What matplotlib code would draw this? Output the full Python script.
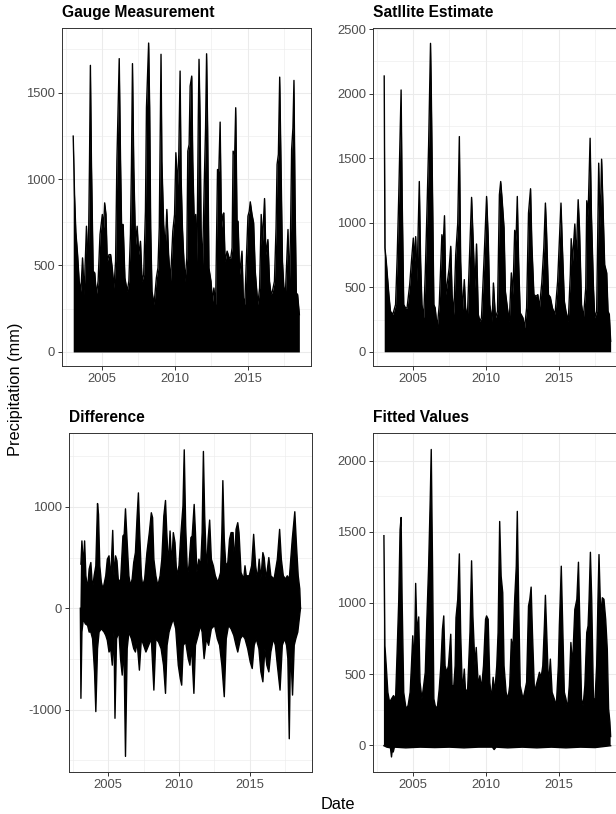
import numpy as np
import matplotlib
matplotlib.use('Agg')
import matplotlib.pyplot as plt
from matplotlib.ticker import FixedLocator

plt.rcParams['font.family'] = ['Liberation Sans', 'DejaVu Sans']
plt.rcParams['axes.unicode_minus'] = False

# ---------------- data (outline of the dense series) ----------------
gauge_dates = [
    2003.02, 2003.11, 2003.20, 2003.32, 2003.43, 2003.55, 2003.66, 2003.77, 2003.93,
    2004.05, 2004.14, 2004.20, 2004.27, 2004.39, 2004.50, 2004.61, 2004.73, 2004.86,
    2005.02, 2005.11, 2005.18, 2005.27, 2005.36, 2005.48, 2005.59, 2005.70, 2005.82, 2005.93,
    2006.02, 2006.18, 2006.27, 2006.34, 2006.45, 2006.57, 2006.73, 2006.84, 2006.95,
    2007.02, 2007.09, 2007.18, 2007.30, 2007.41, 2007.52, 2007.64, 2007.75, 2007.86, 2007.98,
    2008.05, 2008.20, 2008.27, 2008.34, 2008.43, 2008.57, 2008.73, 2008.84, 2008.93,
    2009.05, 2009.11, 2009.23, 2009.34, 2009.45, 2009.57, 2009.70, 2009.86, 2009.98,
    2010.07, 2010.18, 2010.27, 2010.36, 2010.43, 2010.52, 2010.59, 2010.70, 2010.82, 2010.89, 2010.98,
    2011.05, 2011.16, 2011.23, 2011.34, 2011.43, 2011.52, 2011.61, 2011.66, 2011.73, 2011.80, 2011.89, 2011.98,
    2012.02, 2012.11, 2012.18, 2012.25, 2012.34, 2012.48, 2012.59, 2012.68, 2012.80, 2012.93,
    2013.02, 2013.11, 2013.20, 2013.30, 2013.36, 2013.45, 2013.59, 2013.73, 2013.84, 2013.93,
    2014.00, 2014.11, 2014.18, 2014.27, 2014.34, 2014.45, 2014.61, 2014.70, 2014.80, 2014.91,
    2015.02, 2015.11, 2015.18, 2015.30, 2015.41, 2015.52, 2015.70, 2015.82, 2015.93,
    2016.02, 2016.16, 2016.25, 2016.39, 2016.50, 2016.61, 2016.70, 2016.84, 2016.95,
    2017.02, 2017.11, 2017.20, 2017.30, 2017.39, 2017.48, 2017.59, 2017.68, 2017.77, 2017.86, 2017.95,
    2018.02, 2018.11, 2018.18, 2018.25, 2018.34, 2018.43, 2018.55]
gauge_mm = [
    1248, 910, 694, 563, 409, 351, 544, 332, 727,
    467, 1103, 1657, 1103, 467, 457, 332, 409, 679,
    795, 718, 862, 795, 525, 563, 563, 486, 370, 525,
    1103, 1696, 1103, 737, 737, 428, 351, 409, 679,
    1084, 1667, 1065, 621, 727, 563, 640, 409, 448, 814,
    1412, 1786, 1412, 718, 351, 274, 428, 486, 718,
    1721, 1103, 737, 602, 824, 563, 409, 698, 795,
    1152, 959, 1142, 1624, 1007, 718, 583, 409, 544, 1161, 1200,
    1537, 1595, 1103, 718, 795, 525, 1354, 1692, 1354, 718, 467, 833,
    978, 1296, 1724, 1296, 486, 409, 293, 370, 274, 1055,
    1046, 1329, 718, 795, 804, 525, 583, 544, 544, 602,
    1161, 1142, 1412, 756, 756, 448, 583, 313, 274, 525,
    785, 814, 868, 795, 747, 467, 274, 370, 795,
    640, 887, 563, 650, 409, 332, 351, 409, 718,
    1084, 1142, 1589, 1007, 525, 380, 332, 525, 708, 370, 718,
    1171, 1296, 1570, 910, 341, 332, 216]

sat_dates = [
    2003.02, 2003.07, 2003.16, 2003.34, 2003.45, 2003.61, 2003.80, 2003.91,
    2004.02, 2004.11, 2004.18, 2004.25, 2004.36, 2004.48, 2004.59, 2004.77, 2004.89,
    2005.02, 2005.11, 2005.18, 2005.27, 2005.43, 2005.52, 2005.61, 2005.73, 2005.84, 2005.95,
    2006.07, 2006.20, 2006.25, 2006.34, 2006.43, 2006.52, 2006.66, 2006.80, 2006.98,
    2007.07, 2007.16, 2007.25, 2007.39, 2007.48, 2007.59, 2007.68, 2007.80, 2007.93,
    2008.07, 2008.18, 2008.27, 2008.39, 2008.52, 2008.61, 2008.73, 2008.91,
    2009.02, 2009.14, 2009.25, 2009.36, 2009.48, 2009.59, 2009.70, 2009.89,
    2010.05, 2010.16, 2010.27, 2010.43, 2010.52, 2010.66, 2010.80, 2010.93,
    2011.02, 2011.11, 2011.25, 2011.34, 2011.48, 2011.61, 2011.75, 2011.86, 2011.98,
    2012.07, 2012.16, 2012.25, 2012.36, 2012.55, 2012.66, 2012.80, 2012.93,
    2013.07, 2013.16, 2013.30, 2013.45, 2013.57, 2013.68, 2013.84, 2013.98,
    2014.09, 2014.16, 2014.30, 2014.43, 2014.57, 2014.75, 2014.93,
    2015.05, 2015.16, 2015.25, 2015.39, 2015.50, 2015.66, 2015.80, 2015.86, 2015.95,
    2016.11, 2016.20, 2016.34, 2016.43, 2016.57, 2016.70, 2016.86, 2016.93,
    2017.02, 2017.16, 2017.25, 2017.39, 2017.48, 2017.61, 2017.75, 2017.84, 2017.95,
    2018.05, 2018.16, 2018.30, 2018.39, 2018.48, 2018.57]
sat_mm = [
    2136, 804, 701, 443, 314, 289, 366, 727,
    1216, 1680, 2028, 1216, 366, 340, 340, 521, 701,
    881, 701, 892, 546, 1319, 701, 366, 263, 611, 1062,
    1603, 2389, 2041, 1216, 366, 340, 186, 366, 907,
    830, 1054, 443, 572, 649, 817, 443, 289, 752,
    997, 1667, 701, 314, 559, 340, 263, 830,
    1196, 830, 495, 835, 289, 237, 263, 752,
    1203, 894, 366, 237, 533, 263, 314, 1216,
    1319, 1191, 959, 469, 340, 237, 611, 443, 941,
    856, 1203, 701, 302, 263, 186, 340, 1075,
    1263, 830, 443, 430, 443, 340, 533, 804,
    1152, 959, 443, 423, 340, 289, 546,
    856, 1152, 830, 392, 314, 237, 598, 876, 701,
    990, 701, 1178, 959, 366, 263, 495, 1170,
    1049, 1654, 1062, 495, 263, 314, 1461, 959, 1492,
    1113, 675, 611, 314, 289, 82]

diff_up_dates = [
    2003.09, 2003.16, 2003.26, 2003.35, 2003.44, 2003.56, 2003.67, 2003.79, 2003.91,
    2004.02, 2004.14, 2004.26, 2004.33, 2004.42, 2004.53, 2004.65, 2004.84, 2004.95,
    2005.07, 2005.19, 2005.33, 2005.42, 2005.53, 2005.63, 2005.72, 2005.88,
    2006.05, 2006.14, 2006.23, 2006.35, 2006.47, 2006.58, 2006.70, 2006.81, 2006.93,
    2007.05, 2007.14, 2007.23, 2007.35, 2007.44, 2007.58, 2007.74, 2007.91,
    2008.05, 2008.14, 2008.23, 2008.37, 2008.51, 2008.67, 2008.79, 2008.93,
    2009.05, 2009.14, 2009.26, 2009.37, 2009.49, 2009.60, 2009.72, 2009.84,
    2010.00, 2010.14, 2010.28, 2010.37, 2010.47, 2010.60, 2010.70, 2010.84, 2010.93,
    2011.07, 2011.16, 2011.26, 2011.40, 2011.53, 2011.63, 2011.72, 2011.81, 2011.95,
    2012.05, 2012.16, 2012.28, 2012.42, 2012.56, 2012.74, 2012.93,
    2013.02, 2013.09, 2013.19, 2013.30, 2013.44, 2013.56, 2013.67, 2013.81, 2013.91,
    2014.02, 2014.14, 2014.23, 2014.37, 2014.56, 2014.65, 2014.74, 2014.95,
    2015.12, 2015.26, 2015.40, 2015.53, 2015.65, 2015.77, 2015.91,
    2016.00, 2016.14, 2016.33, 2016.47, 2016.70, 2016.93,
    2017.09, 2017.21, 2017.35, 2017.51, 2017.63, 2017.77, 2017.98,
    2018.16, 2018.28, 2018.40, 2018.51, 2018.56]
diff_up_mm = [
    435, 664, 419, 664, 320, 190, 386, 451, 190,
    320, 419, 1033, 925, 419, 255, 190, 320, 484,
    517, 288, 768, 320, 517, 468, 288, 255,
    713, 729, 981, 647, 320, 222, 288, 451, 549,
    909, 1138, 746, 320, 222, 288, 549, 746,
    942, 893, 484, 320, 222, 320, 484, 909,
    1063, 746, 419, 762, 419, 746, 647, 320,
    419, 746, 1007, 1563, 811, 320, 419, 697, 713,
    1024, 746, 353, 484, 419, 746, 1547, 909, 353,
    680, 870, 484, 419, 320, 255, 353,
    746, 1259, 680, 419, 451, 680, 746, 746, 451,
    778, 844, 746, 353, 288, 419, 320, 320,
    419, 729, 419, 288, 484, 288, 549,
    500, 288, 500, 320, 288, 484,
    778, 484, 320, 288, 320, 288, 680,
    952, 615, 320, 190, 0]

diff_lo_dates = [
    2003.05, 2003.09, 2003.16, 2003.26, 2003.40, 2003.56, 2003.67, 2003.79, 2003.91,
    2004.05, 2004.14, 2004.26, 2004.37, 2004.53, 2004.72, 2004.84, 2004.95,
    2005.07, 2005.19, 2005.30, 2005.42, 2005.49, 2005.60, 2005.77, 2005.88,
    2006.00, 2006.12, 2006.23, 2006.35, 2006.47, 2006.65, 2006.81, 2006.93,
    2007.05, 2007.21, 2007.35, 2007.51, 2007.67, 2007.86,
    2008.05, 2008.23, 2008.37, 2008.56, 2008.74, 2008.91,
    2009.05, 2009.16, 2009.30, 2009.44, 2009.60, 2009.77, 2009.95,
    2010.09, 2010.19, 2010.30, 2010.47, 2010.65, 2010.77, 2010.88,
    2011.05, 2011.16, 2011.35, 2011.51, 2011.63, 2011.77, 2011.93,
    2012.09, 2012.28, 2012.51, 2012.70, 2012.86,
    2013.02, 2013.19, 2013.33, 2013.49, 2013.67, 2013.86,
    2014.02, 2014.14, 2014.33, 2014.49, 2014.65, 2014.84,
    2015.02, 2015.16, 2015.30, 2015.44, 2015.63, 2015.77, 2015.91,
    2016.05, 2016.19, 2016.33, 2016.47, 2016.65, 2016.79, 2016.93,
    2017.12, 2017.28, 2017.44, 2017.58, 2017.67, 2017.77, 2017.86,
    2018.00, 2018.12, 2018.23, 2018.37, 2018.56]
diff_lo_mm = [
    0, -889, -235, -105, -154, -170, -235, -235, -301,
    -628, -1020, -399, -235, -203, -235, -268, -317,
    -432, -399, -562, -235, -1086, -301, -235, -497,
    -660, -366, -1462, -399, -235, -301, -399, -432,
    -334, -611, -301, -366, -432, -366,
    -301, -808, -301, -334, -399, -562,
    -840, -366, -235, -170, -105, -203, -562,
    -693, -759, -366, -334, -497, -562, -366,
    -840, -366, -268, -170, -235, -497, -301,
    -366, -203, -170, -301, -366,
    -562, -873, -301, -170, -203, -268,
    -366, -432, -301, -268, -301, -399,
    -530, -595, -366, -301, -399, -628, -726,
    -399, -562, -628, -432, -301, -366, -562,
    -808, -366, -301, -366, -497, -1288, -366,
    -857, -366, -301, -235, 0]

fit_up_dates = [
    2003.00, 2003.07, 2003.16, 2003.27, 2003.39, 2003.52, 2003.66, 2003.80, 2003.91,
    2004.02, 2004.11, 2004.18, 2004.25, 2004.36, 2004.52, 2004.66, 2004.80, 2004.89, 2004.98,
    2005.09, 2005.18, 2005.27, 2005.39, 2005.48, 2005.61, 2005.73, 2005.84, 2005.95,
    2006.07, 2006.18, 2006.25, 2006.34, 2006.43, 2006.52, 2006.66, 2006.80, 2006.91,
    2007.02, 2007.11, 2007.20, 2007.32, 2007.43, 2007.59, 2007.68, 2007.80, 2007.89, 2007.95,
    2008.07, 2008.18, 2008.27, 2008.39, 2008.52, 2008.61, 2008.75, 2008.91,
    2009.02, 2009.11, 2009.25, 2009.34, 2009.48, 2009.59, 2009.70, 2009.84, 2009.98,
    2010.05, 2010.16, 2010.27, 2010.39, 2010.50, 2010.61, 2010.75, 2010.84, 2010.95,
    2011.05, 2011.16, 2011.25, 2011.39, 2011.52, 2011.64, 2011.75, 2011.86, 2011.98,
    2012.09, 2012.16, 2012.25, 2012.36, 2012.55, 2012.66, 2012.80, 2012.93,
    2013.02, 2013.11, 2013.20, 2013.34, 2013.45, 2013.57, 2013.68, 2013.80, 2013.91,
    2014.02, 2014.09, 2014.18, 2014.30, 2014.43, 2014.55, 2014.70, 2014.84, 2014.98,
    2015.05, 2015.11, 2015.18, 2015.27, 2015.39, 2015.50, 2015.61, 2015.73, 2015.84, 2015.95,
    2016.11, 2016.25, 2016.36, 2016.45, 2016.57, 2016.68, 2016.80, 2016.93,
    2017.02, 2017.09, 2017.18, 2017.27, 2017.39, 2017.50, 2017.61, 2017.70, 2017.77, 2017.89,
    2018.00, 2018.11, 2018.23, 2018.34, 2018.43, 2018.52, 2018.57]
fit_up_mm = [
    1474, 698, 558, 371, 301, 325, 348, 325, 663,
    1026, 1516, 1602, 1026, 371, 255, 278, 371, 558, 769,
    558, 1138, 792, 902, 442, 325, 418, 512, 885,
    1259, 1726, 2081, 1259, 325, 278, 255, 395, 558,
    815, 909, 558, 512, 558, 780, 418, 418, 558, 897,
    1026, 1346, 792, 371, 535, 371, 395, 792,
    1297, 909, 558, 687, 418, 488, 395, 558, 885,
    909, 885, 442, 325, 477, 371, 558, 792, 1574,
    1189, 1072, 558, 371, 325, 418, 745, 675, 1026,
    1259, 1645, 1026, 418, 325, 371, 442, 979,
    1026, 1112, 792, 371, 418, 465, 512, 477, 558,
    839, 1054, 792, 418, 605, 371, 325, 278, 558,
    846, 1026, 1259, 885, 371, 325, 255, 418, 722, 558,
    955, 1026, 1287, 885, 325, 278, 418, 792,
    839, 1026, 1357, 1026, 325, 325, 558, 1026, 1341, 909,
    1037, 1026, 885, 675, 255, 161, 60]

fit_lo_dates = [2003.00, 2003.20, 2003.45, 2003.52, 2003.58, 2003.64, 2003.72, 2004.50,
                2005.50, 2006.50, 2007.50, 2008.50, 2009.50, 2010.45, 2010.57, 2010.70,
                2011.50, 2012.50, 2013.50, 2014.50, 2015.50, 2016.50, 2017.50, 2018.57]
fit_lo_mm = [-5, -15, -20, -84, -30, -49, -15, -20,
             -15, -18, -15, -20, -15, -15, -32, -15,
             -20, -15, -20, -15, -20, -15, -18, -5]

panel_titles = ["Gauge Measurement", "Satllite Estimate", "Difference", "Fitted Values"]
x_major = [2005, 2010, 2015]
x_minor = [2002.5, 2007.5, 2012.5, 2017.5]

for a, b in [(gauge_dates, gauge_mm), (sat_dates, sat_mm), (diff_up_dates, diff_up_mm),
             (diff_lo_dates, diff_lo_mm), (fit_up_dates, fit_up_mm), (fit_lo_dates, fit_lo_mm)]:
    assert len(a) == len(b), (len(a), len(b))

# ---------------- figure ----------------
W, H = 616, 814
fig = plt.figure(figsize=(W / 100, H / 100), dpi=100)


def box(l, t, r, b):
    return [l / W, 1 - b / H, (r - l) / W, (b - t) / H]


ax1 = fig.add_axes(box(62, 28, 311, 366))
ax2 = fig.add_axes(box(373, 28, 622, 366))
ax3 = fig.add_axes(box(69, 433, 311.7, 772))
ax4 = fig.add_axes(box(373, 433, 622, 772))

GRID = '#EBEBEB'
BORDER = '#333333'


def style(ax, title, ylim, ymaj, ymin):
    ax.set_xlim(2002.25, 2019.35)
    ax.set_ylim(*ylim)
    ax.xaxis.set_major_locator(FixedLocator(x_major))
    ax.xaxis.set_minor_locator(FixedLocator(x_minor))
    ax.yaxis.set_major_locator(FixedLocator(ymaj))
    ax.yaxis.set_minor_locator(FixedLocator(ymin))
    ax.set_xticklabels([str(v) for v in x_major])
    ax.set_yticklabels([str(v) for v in ymaj])
    ax.grid(which='major', color=GRID, lw=0.75)
    ax.grid(which='minor', color=GRID, lw=0.4)
    ax.set_axisbelow(True)
    ax.tick_params(which='major', length=3.0, width=0.7, color=BORDER,
                   labelsize=9.4, labelcolor='#4D4D4D', pad=2)
    ax.tick_params(which='minor', length=0)
    for s in ax.spines.values():
        s.set_color(BORDER)
        s.set_linewidth(0.7)
    ax.set_title(title, loc='left', fontsize=11.2, fontweight='bold', pad=8)


def draw_pos(ax, d, v):
    d = np.asarray(d, float)
    v = np.asarray(v, float)
    ax.fill_between(d, 0, v, color='black', lw=0, zorder=2)
    ax.plot(d, v, color='black', lw=1.0, zorder=3)


draw_pos(ax1, gauge_dates, gauge_mm)
style(ax1, panel_titles[0], (-81, 1873), [0, 500, 1000, 1500], [250, 750, 1250, 1750])

draw_pos(ax2, sat_dates, sat_mm)
style(ax2, panel_titles[1], (-110, 2508), [0, 500, 1000, 1500, 2000, 2500],
      [250, 750, 1250, 1750, 2250])

ud, uv = np.asarray(diff_up_dates), np.asarray(diff_up_mm)
ld, lv = np.asarray(diff_lo_dates), np.asarray(diff_lo_mm)
ax3.fill(np.r_[ud, ld[::-1]], np.r_[uv, lv[::-1]], color='black', lw=0, zorder=2)
ax3.plot(ud, uv, color='black', lw=1.0, zorder=3)
ax3.plot(ld, lv, color='black', lw=1.0, zorder=3)
style(ax3, panel_titles[2], (-1616, 1729), [-1000, 0, 1000], [-1500, -500, 500, 1500])

ud, uv = np.asarray(fit_up_dates), np.asarray(fit_up_mm)
ld, lv = np.asarray(fit_lo_dates), np.asarray(fit_lo_mm)
ax4.fill(np.r_[ud, ld[::-1]], np.r_[uv, lv[::-1]], color='black', lw=0, zorder=2)
ax4.plot(ud, uv, color='black', lw=1.0, zorder=3)
ax4.plot(ld, lv, color='black', lw=1.0, zorder=3)
style(ax4, panel_titles[3], (-190, 2197), [0, 500, 1000, 1500, 2000],
      [250, 750, 1250, 1750])

fig.text(338 / W, 1 - 809 / H, 'Date', ha='center', va='baseline', fontsize=11.8, color='black')
fig.text(16 / W, 1 - 389 / H, 'Precipitation (mm)', rotation=90, ha='center', va='center',
         fontsize=11.8, color='black')

fig.savefig('out.png', dpi=100)
